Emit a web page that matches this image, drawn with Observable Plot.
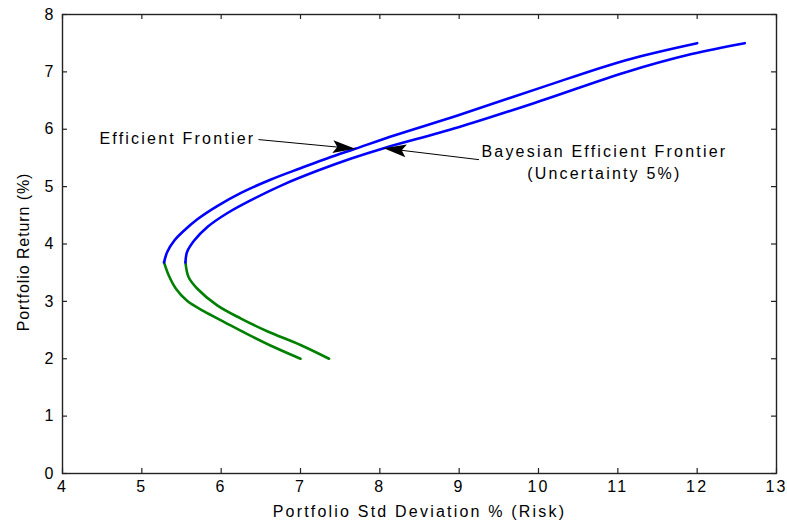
<!DOCTYPE html>
<html>
<head>
<meta charset="utf-8">
<script src="https://cdn.jsdelivr.net/npm/d3@7"></script>
<script src="https://cdn.jsdelivr.net/npm/@observablehq/plot@0.6"></script>
<style>
  html, body { margin: 0; padding: 0; background: #fff; }
  #chart svg { display: block; font-family: "Liberation Sans", Arial, sans-serif; }
  #chart svg text { letter-spacing: 2.2px; }
</style>
</head>
<body>
<div id="chart"></div>
<script>
// Efficient Frontier: upper (blue) branch and lower (green) branch
const efUpperStd = [5.28, 5.32, 5.41, 5.53, 5.70, 5.95, 6.25, 6.62, 7.00, 7.35, 7.69, 8.20, 8.98, 10.04, 11.09, 12.00];
const efUpperRet = [3.68, 3.86, 4.06, 4.23, 4.43, 4.66, 4.89, 5.12, 5.32, 5.50, 5.66, 5.90, 6.24, 6.73, 7.20, 7.50];
const efLowerStd = [7.00, 6.67, 6.33, 6.04, 5.78, 5.57, 5.43, 5.34, 5.28];
const efLowerRet = [2.00, 2.20, 2.43, 2.64, 2.83, 3.01, 3.22, 3.45, 3.68];
// Bayesian Efficient Frontier (Uncertainty 5%)
const bfUpperStd = [5.55, 5.57, 5.66, 5.83, 6.08, 6.37, 6.79, 7.22, 7.64, 8.05, 8.98, 10.04, 11.09, 11.93, 12.60];
const bfUpperRet = [3.68, 3.86, 4.06, 4.30, 4.54, 4.76, 5.04, 5.28, 5.49, 5.67, 6.03, 6.50, 6.99, 7.31, 7.50];
const bfLowerStd = [7.36, 7.00, 6.58, 6.25, 5.95, 5.70, 5.59, 5.55];
const bfLowerRet = [2.00, 2.24, 2.48, 2.70, 2.93, 3.22, 3.42, 3.68];

const xTicks = [4, 5, 6, 7, 8, 9, 10, 11, 12, 13];
const yTicks = [0, 1, 2, 3, 4, 5, 6, 7, 8];

// Annotations: label, text position, arrow start and arrow tip (std, ret)
const annLabels = ["Efficient Frontier", "Bayesian Efficient Frontier\n(Uncertainty 5%)"];
const annTextStd = [6.43, 10.83];
const annTextRet = [5.83, 5.45];
const annFromStd = [6.47, 9.25];
const annFromRet = [5.82, 5.47];
const annToStd = [7.69, 8.05];
const annToRet = [5.66, 5.67];

const W = 787, H = 523;
const mL = 62, mR = 11, mT = 14, mB = 50;
const innerW = W - mL - mR, innerH = H - mT - mB;
const xDomain = [4, 13], yDomain = [0, 8];

const zip = (xs, ys) => xs.map((x, i) => ({x, y: ys[i]}));
const ann = annLabels.map((label, i) => ({
  label, tx: annTextStd[i], ty: annTextRet[i],
  x1: annFromStd[i], y1: annFromRet[i], x2: annToStd[i], y2: annToRet[i]
}));

// screen angle of each arrow (degrees clockwise)
const kx = innerW / (xDomain[1] - xDomain[0]);
const ky = innerH / (yDomain[1] - yDomain[0]);
ann.forEach(d => {
  d.angle = Math.atan2(-(d.y2 - d.y1) * ky, (d.x2 - d.x1) * kx) * 180 / Math.PI;
});

// filled arrowhead symbol with tip at origin pointing along +x
const arrowHead = {
  draw(context, size) {
    const r = Math.sqrt(size / Math.PI);
    const L = 3 * r, w = 0.85 * r;
    context.moveTo(0, 0);
    context.lineTo(-L, -w);
    context.lineTo(-0.8 * L, 0);
    context.lineTo(-L, w);
    context.closePath();
  }
};

const lineOpts = (color) => ({x: "x", y: "y", stroke: color, strokeWidth: 2.6, curve: "catmull-rom"});

const plot = Plot.plot({
  width: W, height: H,
  marginLeft: mL, marginRight: mR, marginTop: mT, marginBottom: mB,
  style: {fontFamily: "'Liberation Sans', Arial, sans-serif", fontSize: "16px", color: "#000", background: "#fff"},
  x: {domain: xDomain, ticks: xTicks, label: null},
  y: {domain: yDomain, ticks: yTicks, label: null},
  marks: [
    Plot.frame({stroke: "#222", strokeWidth: 1.4}),
    // inward ticks
    Plot.ruleX(xTicks, {stroke: "#222", strokeWidth: 1.2, insetTop: innerH - 5}),
    Plot.ruleX(xTicks, {stroke: "#222", strokeWidth: 1.2, insetBottom: innerH - 5}),
    Plot.ruleY(yTicks, {stroke: "#222", strokeWidth: 1.2, insetRight: innerW - 5}),
    Plot.ruleY(yTicks, {stroke: "#222", strokeWidth: 1.2, insetLeft: innerW - 5}),
    Plot.axisX({ticks: xTicks, tickSize: 0, tickPadding: 7, fontSize: 16, label: null}),
    Plot.axisY({ticks: yTicks, tickSize: 0, tickPadding: 7, fontSize: 16, label: null}),
    Plot.text(["Portfolio Std Deviation % (Risk)"], {frameAnchor: "bottom", lineAnchor: "middle", textAnchor: "middle", dy: 38, fontSize: 16}),
    Plot.text(["Portfolio Return (%)"], {frameAnchor: "left", textAnchor: "middle", lineAnchor: "middle", dx: -39, dy: 8, rotate: -90, fontSize: 16}),
    Plot.line(zip(efLowerStd, efLowerRet), lineOpts("#008000")),
    Plot.line(zip(bfLowerStd, bfLowerRet), lineOpts("#008000")),
    Plot.line(zip(efUpperStd, efUpperRet), lineOpts("#0000ff")),
    Plot.line(zip(bfUpperStd, bfUpperRet), lineOpts("#0000ff")),
    Plot.link(ann, {x1: "x1", y1: "y1", x2: "x2", y2: "y2", stroke: "#000", strokeWidth: 1}),
    Plot.dot(ann, {x: "x2", y: "y2", symbol: arrowHead, r: 7.5, rotate: "angle", fill: "#000", stroke: "none"}),
    Plot.text(ann.slice(0, 1), {x: "tx", y: "ty", text: "label", textAnchor: "end", fontSize: 16}),
    Plot.text(ann.slice(1), {x: "tx", y: "ty", text: "label", textAnchor: "middle", lineAnchor: "middle", lineHeight: 1.4, fontSize: 16})
  ]
});
document.getElementById("chart").appendChild(plot);
// y-axis title is set slightly tighter
d3.select(plot).selectAll("text").filter(function() { return this.textContent === "Portfolio Return (%)"; })
  .style("letter-spacing", "0.9px");
</script>
</body>
</html>
